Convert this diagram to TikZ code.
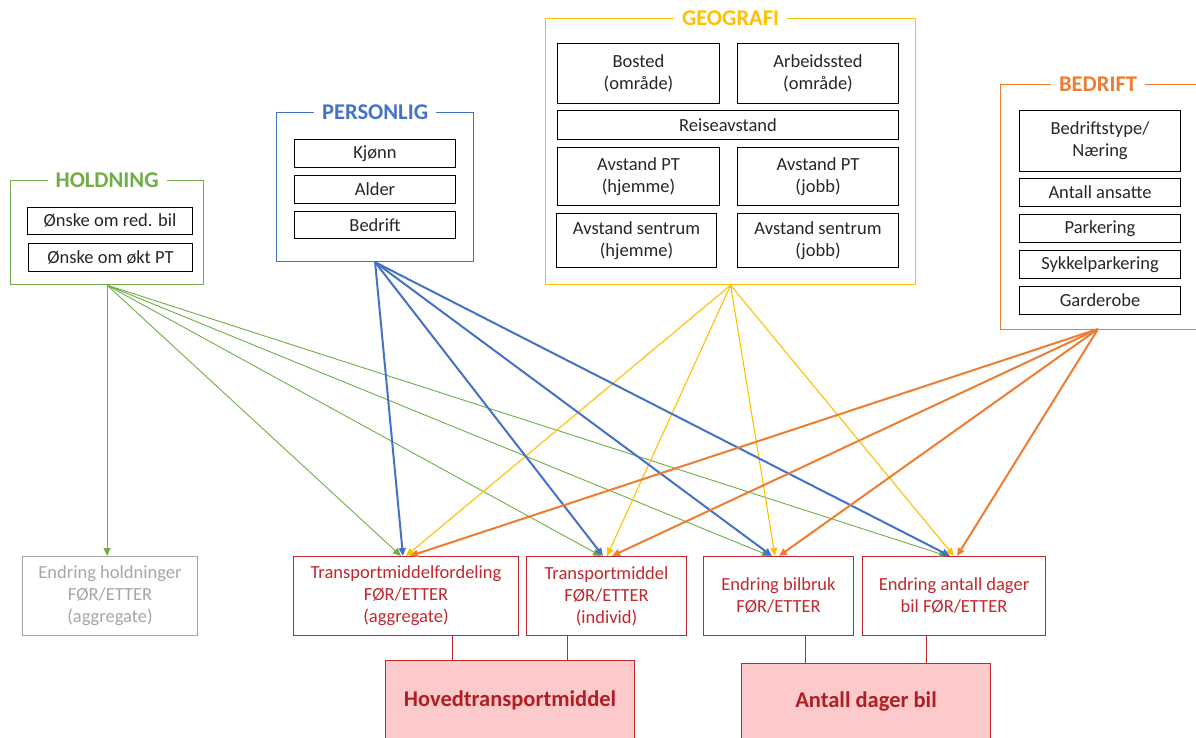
\documentclass[tikz,border=0pt]{standalone}
\usepackage{fontspec}
\setmainfont{Carlito}
\usetikzlibrary{arrows.meta}
\definecolor{cgreen}{HTML}{70AD47}
\definecolor{cblue}{HTML}{4472C4}
\definecolor{cyellow}{HTML}{FFC000}
\definecolor{corange}{HTML}{ED7D31}
\definecolor{cred}{HTML}{C0282D}
\definecolor{cdred}{HTML}{B01E23}
\definecolor{cpink}{HTML}{FDCACB}
\definecolor{cgray}{HTML}{A6A6A6}
\begin{document}
\begin{tikzpicture}[x=1pt,y=-1pt,
  frame/.style={draw, line width=1.2pt, anchor=north west, inner sep=0pt},
  title/.style={fill=white, font=\fontsize{22.5}{26}\selectfont\bfseries, inner xsep=8pt, inner ysep=1pt},
  item/.style={draw=black, line width=1pt, anchor=north west, inner sep=0pt, align=center,
    font=\fontsize{18.5}{22}\selectfont, text=black!85},
  outbox/.style={draw=cred, line width=1pt, anchor=north west, inner sep=0pt, align=center,
    font=\fontsize{18.5}{22}\selectfont, text=cred},
  mainbox/.style={draw=cred, fill=cpink, line width=1pt, anchor=north west, inner sep=0pt, align=center,
    font=\fontsize{22.5}{26}\selectfont\bfseries, text=cdred},
  arr/.style={-{Triangle[length=8pt,width=7pt]}},
  garr/.style={arr, draw=cgreen, line width=0.9pt},
  barr/.style={arr, draw=cblue, line width=2pt},
  yarr/.style={arr, draw=cyellow, line width=1.1pt},
  oarr/.style={arr, draw=corange, line width=2pt},
  link/.style={draw=cred, line width=1pt}
]
\useasboundingbox (0,0) rectangle (1196,738);

% HOLDNING
\node[frame, draw=cgreen, minimum width=193pt, minimum height=104pt] (hold) at (10,180) {};
\node[title, text=cgreen] (holdt) at (hold.north) {HOLDNING};
\node[item, minimum width=165pt, minimum height=27pt] (h1) at (27,207) {Ønske om red. bil};
\node[item, minimum width=164pt, minimum height=28pt] (h2) at (28,243) {Ønske om økt PT};

% PERSONLIG
\node[frame, draw=cblue, minimum width=197pt, minimum height=149pt] (pers) at (276,112) {};
\node[title, text=cblue] (perst) at (pers.north) {PERSONLIG};
\node[item, minimum width=161pt, minimum height=28pt] (p1) at (294,139) {Kjønn};
\node[item, minimum width=161pt, minimum height=28pt] (p2) at (294,175) {Alder};
\node[item, minimum width=161pt, minimum height=27pt] (p3) at (294,211) {Bedrift};

% GEOGRAFI
\node[frame, draw=cyellow, minimum width=370pt, minimum height=266pt] (geo) at (545,18) {};
\node[title, text=cyellow] (geot) at (geo.north) {GEOGRAFI};
\node[item, minimum width=162pt, minimum height=60pt] (g1) at (557,43) {Bosted\\(område)};
\node[item, minimum width=161pt, minimum height=60pt] (g2) at (737,43) {Arbeidssted\\(område)};
\node[item, minimum width=341pt, minimum height=29pt] (g3) at (557,110) {Reiseavstand};
\node[item, minimum width=162pt, minimum height=58pt] (g4) at (557,147) {Avstand PT\\(hjemme)};
\node[item, minimum width=161pt, minimum height=58pt] (g5) at (737,147) {Avstand PT\\(jobb)};
\node[item, minimum width=160pt, minimum height=54pt] (g6) at (556,213) {Avstand sentrum\\(hjemme)};
\node[item, minimum width=161pt, minimum height=54pt] (g7) at (737,213) {Avstand sentrum\\(jobb)};

% BEDRIFT
\node[frame, draw=corange, minimum width=197pt, minimum height=245pt] (bed) at (1000,84) {};
\node[title, text=corange] (bedt) at (1098,84) {BEDRIFT};
\node[item, minimum width=161pt, minimum height=61pt] (b1) at (1019,110) {Bedriftstype/\\Næring};
\node[item, minimum width=161pt, minimum height=28pt] (b2) at (1019,178) {Antall ansatte};
\node[item, minimum width=161pt, minimum height=28pt] (b3) at (1019,214) {Parkering};
\node[item, minimum width=161pt, minimum height=28pt] (b4) at (1019,250) {Sykkelparkering};
\node[item, minimum width=161pt, minimum height=28pt] (b5) at (1019,286) {Garderobe};

% outcome boxes
\node[outbox, draw=cgray, text=cgray, minimum width=175pt, minimum height=79pt] (eh) at (22,556) {Endring holdninger\\FØR/ETTER\\(aggregate)};
\node[outbox, minimum width=225pt, minimum height=79pt] (tf) at (293,556) {Transportmiddelfordeling\\FØR/ETTER\\(aggregate)};
\node[outbox, minimum width=160pt, minimum height=79pt] (tm) at (526,556) {Transportmiddel\\FØR/ETTER\\(individ)};
\node[outbox, minimum width=150pt, minimum height=79pt] (eb) at (703,556) {Endring bilbruk\\FØR/ETTER};
\node[outbox, minimum width=183pt, minimum height=79pt] (ea) at (862,556) {Endring antall dager\\bil FØR/ETTER};

\node[mainbox, minimum width=249pt, minimum height=80pt] (ht) at (385,660) {Hovedtransportmiddel};
\node[mainbox, minimum width=249pt, minimum height=77pt] (ad) at (741,663) {Antall dager bil};

% links to main boxes
\draw[link] (tf.south -| 452,0) -- (ht.north -| 452,0);
\draw[link] (tm.south -| 567,0) -- (ht.north -| 567,0);
\draw[link] (eb.south -| 805,0) -- (ad.north -| 805,0);
\draw[link] (ea.south -| 926,0) -- (ad.north -| 926,0);

% green arrows
\coordinate (gs) at (hold.south);
\draw[garr] (gs) -- (eh.north -| gs);
\draw[garr] (gs) -- (tf.north -| 401,0);
\draw[garr] (gs) -- (tm.north -| 601,0);
\draw[garr] (gs) -- (eb.north -| 770,0);
\draw[garr] (gs) -- (ea.north -| 947,0);

% yellow arrows
\coordinate (ys) at (geo.south);
\draw[yarr] (ys) -- (tf.north -| 406,0);
\draw[yarr] (ys) -- (tm.north -| 607,0);
\draw[yarr] (ys) -- (eb.north -| 775,0);
\draw[yarr] (ys) -- (ea.north -| 954,0);

% blue arrows
\coordinate (bs) at (pers.south);
\draw[barr] (bs) -- (tf.north -| 403,0);
\draw[barr] (bs) -- (tm.north -| 603,0);
\draw[barr] (bs) -- (eb.north -| 772,0);
\draw[barr] (bs) -- (ea.north -| 950,0);

% orange arrows
\coordinate (os) at (1098,329);
\draw[oarr] (os) -- (tf.north -| 410,0);
\draw[oarr] (os) -- (tm.north -| 612,0);
\draw[oarr] (os) -- (eb.north -| 779,0);
\draw[oarr] (os) -- (ea.north -| 957,0);
\end{tikzpicture}
\end{document}
